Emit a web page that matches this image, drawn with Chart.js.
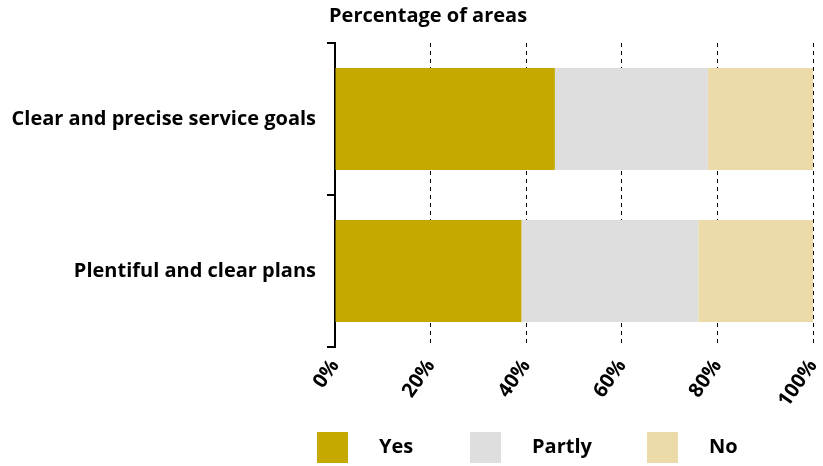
<!DOCTYPE html>
<html>
<head>
<meta charset="utf-8">
<script src="https://cdn.jsdelivr.net/npm/chart.js@4"></script>
<style>
  html, body { margin: 0; padding: 0; background: #fff; }
  #wrap { width: 823px; height: 466px; position: relative; }
</style>
</head>
<body>
<div id="wrap"><canvas id="chart" width="823" height="466"></canvas></div>
<script>
const categories = ['Clear and precise service goals', 'Plentiful and clear plans']
const seriesNames = ['Yes', 'Partly', 'No']
const yesValues = [46, 39]
const partlyValues = [32, 37]
const noValues = [22, 24]
const xTicks = [0, 20, 40, 60, 80, 100]
const chartTitle = 'Percentage of areas'

const colors = ['#c5a900', '#dedede', '#ecdba8']
const FONT = "'Open Sans', sans-serif"

// title over the plot area, left aligned to the axis
const titlePlugin = {
  id: 'areaTitle',
  afterDraw: chart => {
    const ctx = chart.ctx
    ctx.save()
    ctx.font = `bold 20px ${FONT}`
    ctx.fillStyle = '#000'
    ctx.textBaseline = 'alphabetic'
    ctx.fillText(chartTitle, chart.chartArea.left - 6, 22)
    ctx.restore()
  }
}

// legend: big square swatches with wide gaps
const legendPlugin = {
  id: 'bigLegend',
  afterDraw: chart => {
    const ctx = chart.ctx
    const boxX = [317, 470, 647]
    ctx.save()
    ctx.font = `bold 20px ${FONT}`
    ctx.textBaseline = 'middle'
    chart.data.datasets.forEach((ds, i) => {
      ctx.fillStyle = ds.backgroundColor
      ctx.fillRect(boxX[i], 432, 31, 31)
      ctx.fillStyle = '#000'
      ctx.fillText(ds.label, boxX[i] + 62, 447)
    })
    ctx.restore()
  }
}

const ctx = document.getElementById('chart').getContext('2d')
new Chart(ctx, {
  type: 'bar',
  data: {
    labels: categories,
    datasets: [
      { label: seriesNames[0], data: yesValues, backgroundColor: colors[0] },
      { label: seriesNames[1], data: partlyValues, backgroundColor: colors[1] },
      { label: seriesNames[2], data: noValues, backgroundColor: colors[2] }
    ]
  },
  options: {
    indexAxis: 'y',
    responsive: false,
    animation: false,
    layout: { padding: { top: 43, right: 10, left: 0, bottom: 0 } },
    datasets: {
      bar: { categoryPercentage: 1, barPercentage: 0.67, borderWidth: 0 }
    },
    plugins: {
      legend: { display: false },
      title: { display: false },
      tooltip: { enabled: false }
    },
    scales: {
      x: {
        stacked: true,
        min: 0,
        max: 100,
        afterBuildTicks: scale => {
          scale.ticks = xTicks.map(v => ({ value: v }))
        },
        afterFit: scale => {
          scale.height = 119
          scale.paddingLeft = 0
          scale.paddingRight = 0
        },
        grid: {
          color: '#000',
          lineWidth: 1,
          drawTicks: false
        },
        border: { display: false, dash: [4, 4] },
        ticks: {
          color: '#000',
          padding: 8,
          minRotation: 55,
          maxRotation: 55,
          font: { family: FONT, size: 20, weight: 'bold' },
          callback: v => v + '%'
        }
      },
      y: {
        stacked: true,
        afterFit: scale => {
          scale.width = 335
        },
        grid: {
          drawOnChartArea: false,
          color: '#000',
          lineWidth: 2,
          tickLength: 8
        },
        border: { display: true, color: '#000', width: 2 },
        ticks: {
          color: '#000',
          padding: 11,
          font: { family: FONT, size: 20, weight: 'bold' }
        }
      }
    }
  },
  plugins: [titlePlugin, legendPlugin]
})
</script>
</body>
</html>
